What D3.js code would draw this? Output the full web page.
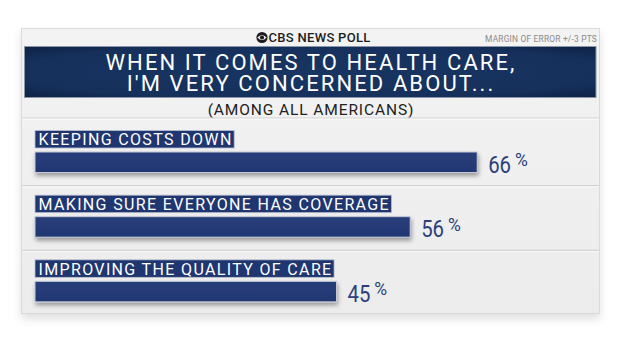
<!DOCTYPE html>
<html><head><meta charset="utf-8">
<script src="https://cdn.jsdelivr.net/npm/d3@7"></script>
<style>html,body{margin:0;padding:0;background:#fff;}svg{display:block;}</style>
</head><body>
<script>
const brand = "CBS NEWS POLL";
const marginNote = "MARGIN OF ERROR +/-3 PTS";
const titleLines = ["WHEN IT COMES TO HEALTH CARE,", "I'M VERY CONCERNED ABOUT..."];
const subtitle = "(AMONG ALL AMERICANS)";
const categories = ["KEEPING COSTS DOWN", "MAKING SURE EVERYONE HAS COVERAGE", "IMPROVING THE QUALITY OF CARE"];
const values = [66, 56, 45];

const W = 620, H = 349;
const svg = d3.select("body").append("svg").attr("width", W).attr("height", H);
const defs = svg.append("defs");

const sh = defs.append("filter").attr("id","barShadow").attr("x","-5%").attr("y","-40%").attr("width","115%").attr("height","200%");
sh.append("feDropShadow").attr("dx",1).attr("dy",3).attr("stdDeviation",2).attr("flood-color","#000").attr("flood-opacity",0.35);
const cs = defs.append("filter").attr("id","cardShadow").attr("x","-5%").attr("y","-5%").attr("width","110%").attr("height","120%");
cs.append("feDropShadow").attr("dx",0).attr("dy",5).attr("stdDeviation",4).attr("flood-color","#000").attr("flood-opacity",0.12);

const tg = defs.append("radialGradient").attr("id","titleGrad").attr("cx","50%").attr("cy","50%").attr("r","75%");
tg.append("stop").attr("offset","0%").attr("stop-color","#183562");
tg.append("stop").attr("offset","70%").attr("stop-color","#15305b");
tg.append("stop").attr("offset","100%").attr("stop-color","#0c1f40");

const cg = defs.append("linearGradient").attr("id","cardGrad").attr("x1",0).attr("y1",0).attr("x2",0).attr("y2",1);
cg.append("stop").attr("offset","0%").attr("stop-color","#f3f3f3");
cg.append("stop").attr("offset","100%").attr("stop-color","#ececec");

const bg = defs.append("linearGradient").attr("id","barGrad").attr("x1",0).attr("y1",0).attr("x2",0).attr("y2",1);
bg.append("stop").attr("offset","0%").attr("stop-color","#273d7b");
bg.append("stop").attr("offset","100%").attr("stop-color","#223872");

// card
svg.append("rect").attr("x",21.5).attr("y",28.5).attr("width",578).attr("height",285)
  .attr("fill","url(#cardGrad)").attr("stroke","#dadada").attr("filter","url(#cardShadow)");

// header
const eye = svg.append("g").attr("transform","translate(262,37.5)");
eye.append("circle").attr("r",5.6).attr("fill","#1d1d1d");
eye.append("path").attr("d","M-4.6,0 Q0,-5 4.6,0 Q0,5 -4.6,0 Z").attr("fill","#f2f2f2");
eye.append("circle").attr("r",2.1).attr("fill","#1d1d1d");
svg.append("text").attr("x",268.5).attr("y",42).attr("font-family","Roboto").attr("font-weight",500)
  .attr("font-size",13).attr("fill","#1d1d1d").attr("letter-spacing",0.3).text(brand);
svg.append("text").attr("x",597).attr("y",41.5).attr("text-anchor","end").attr("font-family","Roboto")
  .attr("font-size",8.4).attr("fill","#8a8a8a").attr("letter-spacing",0.2).text(marginNote);

// title box
svg.append("rect").attr("x",24.5).attr("y",46.5).attr("width",571.5).attr("height",51)
  .attr("fill","url(#titleGrad)").attr("stroke","#8a95a5").attr("stroke-width",1);
const title = svg.append("text").attr("text-anchor","middle")
  .attr("font-family","Roboto").attr("font-weight",400).attr("font-size",22).attr("fill","#ffffff")
  .attr("letter-spacing",2.1);
title.selectAll("tspan").data(titleLines).join("tspan")
  .attr("x",311).attr("y",(d,i)=>70 + i*21.4).text(d=>d);

// subtitle
svg.append("text").attr("x",311).attr("y",115).attr("text-anchor","middle").attr("font-family","Roboto")
  .attr("font-size",15.5).attr("fill","#222").attr("letter-spacing",0.9).text(subtitle);

// scales
const x = d3.scaleLinear().domain([0,100]).range([35,705]);
const y = d3.scaleBand().domain(categories).range([121.5,315.5]);

// separators
const seps = [118].concat(categories.slice(1).map(c=>y(c)-0.5));
svg.selectAll("line.sep").data(seps).join("line").attr("class","sep")
  .attr("x1",22).attr("x2",599).attr("y1",d=>d).attr("y2",d=>d).attr("stroke","#d2d2d2").attr("stroke-width",1.2);
svg.selectAll("line.sep2").data(seps).join("line").attr("class","sep2")
  .attr("x1",22).attr("x2",599).attr("y1",d=>d+1.2).attr("y2",d=>d+1.2).attr("stroke","#fafafa").attr("stroke-width",1);

const rows = svg.selectAll("g.row").data(categories).join("g").attr("class","row")
  .attr("transform",c=>`translate(0,${y(c)})`);

// label boxes
rows.each(function(c){
  const g = d3.select(this);
  const box = g.append("rect").attr("x",35).attr("y",9).attr("height",17.5)
    .attr("fill","#1f3670").attr("stroke","#b9c0cf").attr("stroke-width",0.8);
  const t = g.append("text").attr("x",38.5).attr("y",23.8).attr("font-family","Roboto")
    .attr("font-size",16).attr("fill","#ffffff").attr("letter-spacing",1.35).text(c);
  const w = t.node().getComputedTextLength();
  box.attr("width", w + 5);
});

// bars
rows.append("rect").attr("x",x(0)).attr("y",30.5).attr("height",20.5)
  .attr("width",(c,i)=>x(values[i])-x(0))
  .attr("fill","url(#barGrad)").attr("stroke","#c3c8d4").attr("stroke-width",1)
  .attr("filter","url(#barShadow)");

// value labels (condensed numerals)
rows.each(function(c,i){
  const g = d3.select(this);
  const t = g.append("text").attr("x",x(values[i])+11).attr("y",51).attr("font-family","Roboto")
    .attr("font-size",24.5).attr("fill","#2b3f7c").text(values[i]);
  const w = t.node().getComputedTextLength() * 0.83;
  t.attr("textLength", w).attr("lengthAdjust","spacingAndGlyphs");
  g.append("text").attr("x",x(values[i])+11+w+4).attr("y",44.5).attr("font-family","Roboto")
    .attr("font-size",17.5).attr("fill","#2b3f7c").text("%");
});
</script>
</body></html>
